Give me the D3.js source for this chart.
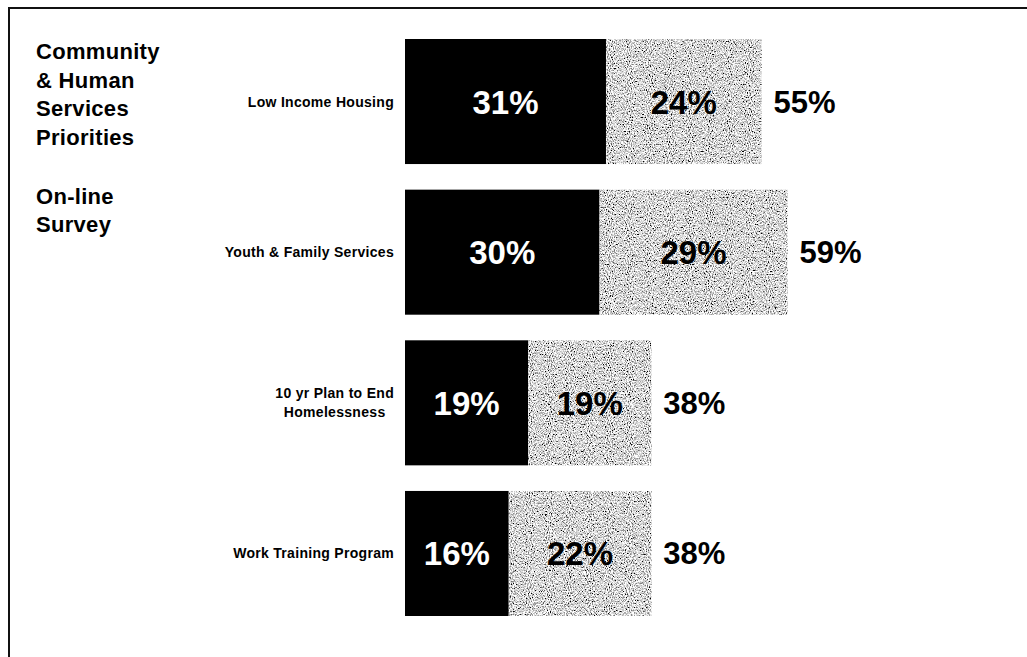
<!DOCTYPE html>
<html>
<head>
<meta charset="utf-8">
<script src="https://cdn.jsdelivr.net/npm/d3@7"></script>
<style>
  html, body { margin: 0; padding: 0; background: #fff; }
  svg { display: block; }
  text { font-family: "Liberation Sans", Arial, Helvetica, sans-serif; font-weight: bold; }
</style>
</head>
<body>
<svg id="chart" width="1027" height="657"></svg>
<script>
// ---- data ----
const categories = ["Low Income Housing", "Youth & Family Services", "10 yr Plan to End Homelessness", "Work Training Program"];
const categoryLines = [["Low Income Housing"], ["Youth & Family Services"], ["10 yr Plan to End", "Homelessness"], ["Work Training Program"]];
const firstValues = [31, 30, 19, 16];
const secondValues = [24, 29, 19, 22];
const totals = [55, 59, 38, 38];
const titleLines = ["Community", "& Human", "Services", "Priorities"];
const subtitleLines = ["On-line", "Survey"];

const svg = d3.select("#chart");

// grain filter for the gray segments
const defs = svg.append("defs");
const f = defs.append("filter").attr("id", "grain")
  .attr("x", 0).attr("y", 0).attr("width", 1).attr("height", 1)
  .attr("filterUnits", "objectBoundingBox");
f.append("feTurbulence").attr("type", "fractalNoise").attr("baseFrequency", "0.95 0.7")
  .attr("numOctaves", 2).attr("seed", 7).attr("result", "noise");
f.append("feColorMatrix").attr("in", "noise").attr("type", "matrix")
  .attr("values", "2.8 0 0 0 -0.72  2.8 0 0 0 -0.72  2.8 0 0 0 -0.72  0 0 0 0 1")
  .attr("result", "gray");
f.append("feComposite").attr("in", "gray").attr("in2", "SourceGraphic").attr("operator", "in");

// frame
svg.append("path")
  .attr("d", d3.line()([[9, 657], [9, 8], [1027, 8]]))
  .attr("fill", "none").attr("stroke", "#111").attr("stroke-width", 2);

// scales
const x = d3.scaleLinear().domain([0, 60]).range([405, 794]);
const y = d3.scaleBand().domain(categories).range([39, 616]).paddingInner(0.17).paddingOuter(0);

const rows = categories.map((c, i) => ({
  cat: c, lines: categoryLines[i], a: firstValues[i], b: secondValues[i], t: totals[i]
}));

const g = svg.append("g");

// black segments
g.selectAll("rect.a").data(rows).join("rect").attr("class", "a")
  .attr("x", x(0)).attr("y", d => y(d.cat))
  .attr("width", d => x(d.a) - x(0)).attr("height", y.bandwidth())
  .attr("fill", "#000");

// gray segments
g.selectAll("rect.b").data(rows).join("rect").attr("class", "b")
  .attr("x", d => x(d.a)).attr("y", d => y(d.cat))
  .attr("width", d => x(d.a + d.b) - x(d.a)).attr("height", y.bandwidth())
  .attr("fill", "#b0b0b0").attr("filter", "url(#grain)");

// value labels inside
g.selectAll("text.va").data(rows).join("text").attr("class", "va")
  .attr("x", d => (x(0) + x(d.a)) / 2).attr("y", d => y(d.cat) + y.bandwidth() / 2 + 12)
  .attr("text-anchor", "middle").attr("font-size", 33).attr("fill", "#fff")
  .text(d => d.a + "%");

g.selectAll("text.vb").data(rows).join("text").attr("class", "vb")
  .attr("x", d => (x(d.a) + x(d.a + d.b)) / 2).attr("y", d => y(d.cat) + y.bandwidth() / 2 + 12)
  .attr("text-anchor", "middle").attr("font-size", 33).attr("fill", "#000")
  .text(d => d.b + "%");

// totals
g.selectAll("text.vt").data(rows).join("text").attr("class", "vt")
  .attr("x", d => x(d.t) + 12).attr("y", d => y(d.cat) + y.bandwidth() / 2 + 11)
  .attr("text-anchor", "start").attr("font-size", 31).attr("fill", "#000")
  .text(d => d.t + "%");

// category labels
const lh = 19;
g.selectAll("text.cat").data(rows).join("text").attr("class", "cat")
  .attr("font-size", 14).attr("letter-spacing", 0.3).attr("fill", "#000")
  .attr("text-anchor", "middle")
  .each(function (d) {
    const el = d3.select(this);
    const n = d.lines.length;
    const cy = y(d.cat) + y.bandwidth() / 2;
    d.lines.forEach((ln, k) => {
      el.append("tspan").attr("y", cy + 5 + (k - (n - 1) / 2) * lh).text(ln);
    });
    let maxW = 0;
    el.selectAll("tspan").each(function () { maxW = Math.max(maxW, this.getComputedTextLength()); });
    el.selectAll("tspan").attr("x", 394 - maxW / 2);
  });

// titles
const tg = svg.append("g").attr("font-size", 22).attr("fill", "#000");
tg.selectAll("text.t").data(titleLines).join("text").attr("class", "t")
  .attr("x", 36).attr("y", (d, i) => 59 + i * 28.5).attr("letter-spacing", 0.3).text(d => d);
tg.selectAll("text.s").data(subtitleLines).join("text").attr("class", "s")
  .attr("x", 36).attr("y", (d, i) => 204 + i * 28).attr("letter-spacing", 0.3).text(d => d);
</script>
</body>
</html>
